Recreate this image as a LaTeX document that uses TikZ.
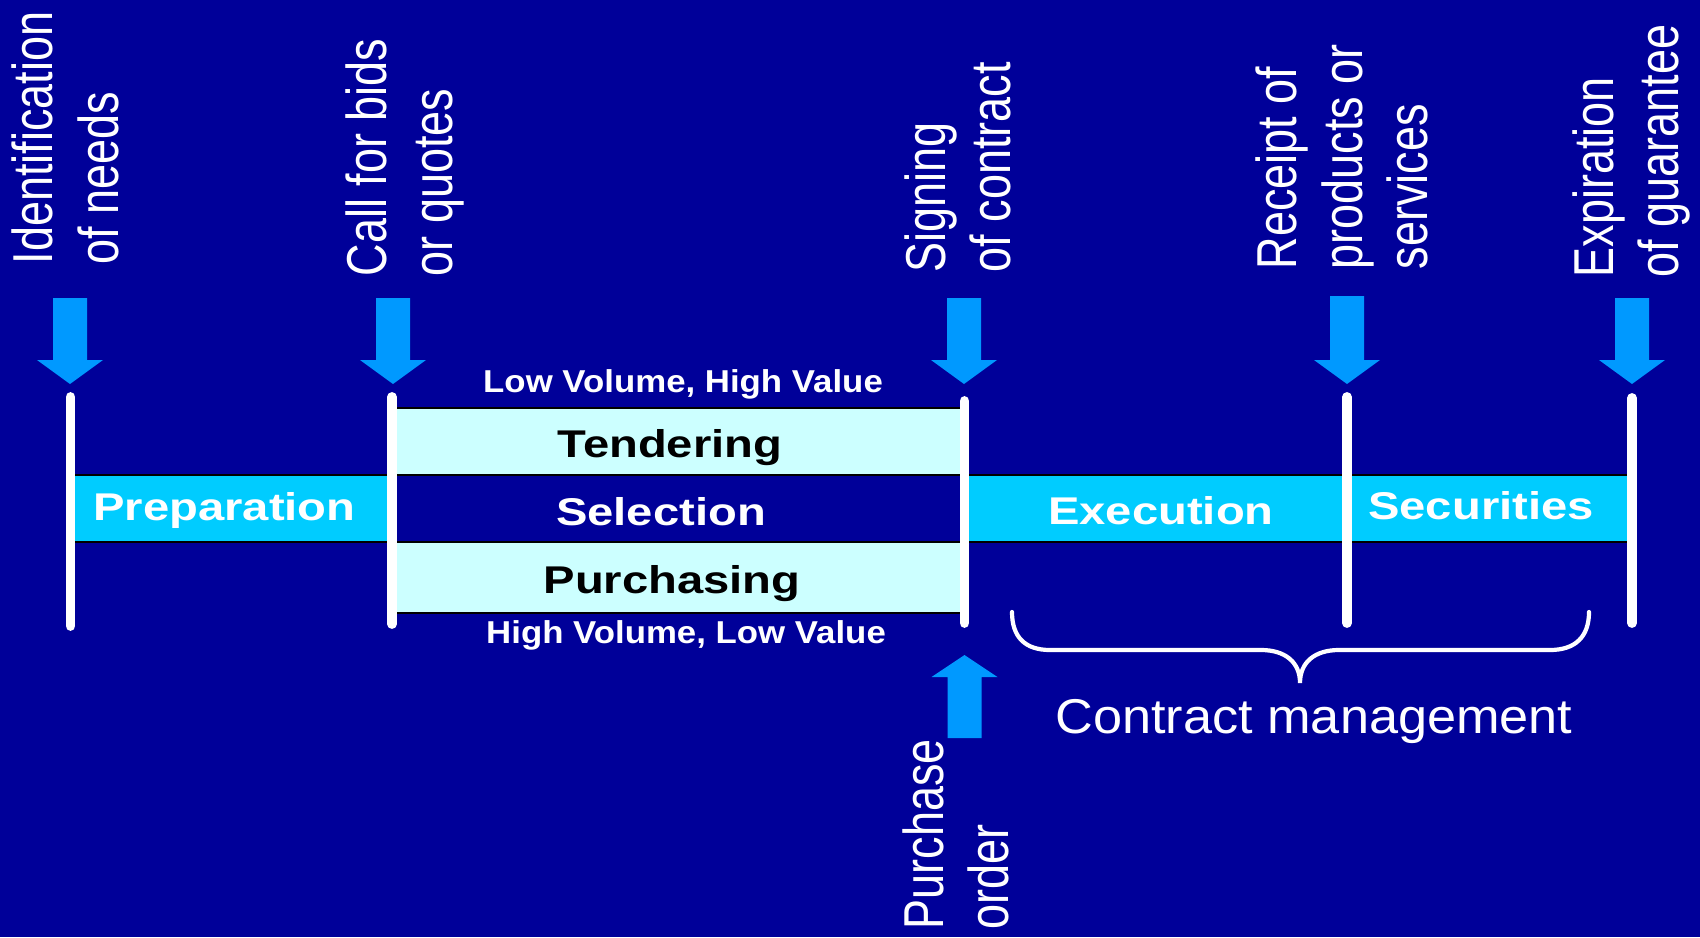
\documentclass[tikz,border=0pt]{standalone}
\usepackage{fontspec}
\setmainfont{Liberation Sans}
\usepackage{graphicx}

\definecolor{deepnavy}{HTML}{000099}
\definecolor{cueblue}{HTML}{0099FF}
\definecolor{phasecyan}{HTML}{00CCFF}
\definecolor{routecyan}{HTML}{CCFFFF}

\tikzset{
  cue/.style={fill=cueblue},
  milestone/.style={draw=white, line width=2.8pt, line cap=round},
  phase/.style={fill=phasecyan, draw=black, line width=0.6pt},
  route/.style={fill=routecyan, draw=black, line width=0.6pt},
  toplabel/.style={rotate=90, anchor=west, inner sep=0pt, text=white, font=\fontsize{12.8}{14.8}\selectfont},
  phasetext/.style={anchor=base, inner sep=0pt, font=\bfseries\fontsize{11}{13}\selectfont},
  volumetext/.style={anchor=base, inner sep=0pt, text=white, font=\bfseries\fontsize{9}{11}\selectfont},
  bracetext/.style={anchor=base, inner sep=0pt, text=white, font=\fontsize{13.9}{16}\selectfont}
}

\begin{document}
\begin{tikzpicture}

\fill [deepnavy] (0,0) rectangle (17,9.37);
\useasboundingbox (0,0) rectangle (17,9.37);

\draw [phase] (0.705,4.62) rectangle (3.92,3.95);
\draw [phase] (9.645,4.62) rectangle (13.47,3.95);
\draw [phase] (13.47,4.62) rectangle (16.32,3.95);
\draw [route] (3.92,5.29) rectangle (9.645,4.62);
\draw [route] (3.92,3.95) rectangle (9.645,3.24);

\draw [milestone] (0.705,5.40) -- (0.705,3.11);
\draw [milestone] (3.92,5.40) -- (3.92,3.13);
\draw [milestone] (9.645,5.36) -- (9.645,3.14);
\draw [milestone] (13.47,5.40) -- (13.47,3.14);
\draw [milestone] (16.32,5.39) -- (16.32,3.14);

\fill [cue] (0.70,5.53) -- ++(0.33,0.24) -- ++(-0.16,0) -- ++(0,0.62) -- ++(-0.34,0) -- ++(0,-0.62) -- ++(-0.16,0) -- cycle;
\fill [cue] (3.93,5.53) -- ++(0.33,0.24) -- ++(-0.16,0) -- ++(0,0.62) -- ++(-0.34,0) -- ++(0,-0.62) -- ++(-0.16,0) -- cycle;
\fill [cue] (9.64,5.53) -- ++(0.33,0.24) -- ++(-0.16,0) -- ++(0,0.62) -- ++(-0.34,0) -- ++(0,-0.62) -- ++(-0.16,0) -- cycle;
\fill [cue] (13.47,5.53) -- ++(0.33,0.24) -- ++(-0.16,0) -- ++(0,0.64) -- ++(-0.34,0) -- ++(0,-0.64) -- ++(-0.16,0) -- cycle;
\fill [cue] (16.32,5.53) -- ++(0.33,0.24) -- ++(-0.16,0) -- ++(0,0.62) -- ++(-0.34,0) -- ++(0,-0.62) -- ++(-0.16,0) -- cycle;
\fill [cue] (9.645,2.82) -- ++(0.33,-0.22) -- ++(-0.16,0) -- ++(0,-0.61) -- ++(-0.34,0) -- ++(0,0.61) -- ++(-0.16,0) -- cycle;

\node (needs) at (0.725,6.72) [toplabel] {\scalebox{1}[1.25]{\begin{tabular}{@{}l@{}}Identification\\of needs\end{tabular}}};
\node (bids) at (4.065,6.60) [toplabel] {\scalebox{1}[1.25]{\begin{tabular}{@{}l@{}}Call for bids\\or quotes\end{tabular}}};
\node (signing) at (9.645,6.64) [toplabel] {\scalebox{1}[1.25]{\begin{tabular}{@{}l@{}}Signing\\of contract\end{tabular}}};
\node (receipt) at (13.49,6.67) [toplabel] {\scalebox{1}[1.25]{\begin{tabular}{@{}l@{}}Receipt of\\products or\\services\end{tabular}}};
\node (expiry) at (16.325,6.59) [toplabel] {\scalebox{1}[1.25]{\begin{tabular}{@{}l@{}}Expiration\\of guarantee\end{tabular}}};
\node (order) at (9.625,0.07) [toplabel] {\scalebox{1}[1.25]{\begin{tabular}{@{}l@{}}Purchase\\order\end{tabular}}};

\node (prep) at (2.245,4.17) [phasetext, white] {\scalebox{1.22}[1]{Preparation}};
\node (sel) at (6.61,4.12) [phasetext, white] {\scalebox{1.22}[1]{Selection}};
\node (exec) at (11.61,4.13) [phasetext, white] {\scalebox{1.22}[1]{Execution}};
\node (sec) at (14.81,4.18) [phasetext, white] {\scalebox{1.22}[1]{Securities}};
\node (tender) at (6.70,4.80) [phasetext, black] {\scalebox{1.22}[1]{Tendering}};
\node (purch) at (6.72,3.44) [phasetext, black] {\scalebox{1.22}[1]{Purchasing}};
\node (lowvol) at (6.83,5.45) [volumetext] {\scalebox{1.1}[1]{Low Volume, High Value}};
\node (highvol) at (6.86,2.94) [volumetext] {\scalebox{1.1}[1]{High Volume, Low Value}};

\draw [white, line width=1.2pt, line cap=round] (10.12,3.25) .. controls (10.12,3.00) and (10.25,2.87) .. (10.50,2.87) -- (12.61,2.87) .. controls (12.85,2.87) and (13.00,2.75) .. (13.00,2.54) .. controls (13.00,2.75) and (13.15,2.87) .. (13.39,2.87) -- (15.50,2.87) .. controls (15.75,2.87) and (15.89,3.00) .. (15.89,3.25);
\node (cm) at (13.14,2.04) [bracetext] {\scalebox{1.07}[1]{Contract management}};

\end{tikzpicture}
\end{document}
